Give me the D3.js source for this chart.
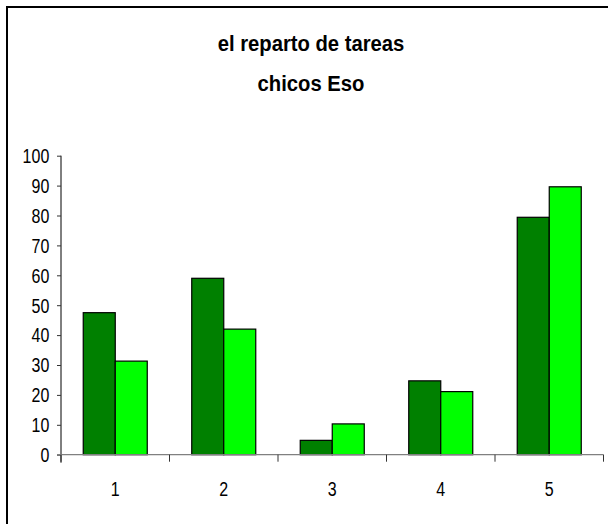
<!DOCTYPE html>
<html><head><meta charset="utf-8">
<script src="https://cdn.jsdelivr.net/npm/d3@7"></script>
<style>body{margin:0;background:#fff}svg{display:block}text{font-family:"Liberation Sans",Arial,sans-serif}</style>
</head><body><svg id="c" width="608" height="524"></svg>
<script>
const categories = ["1","2","3","4","5"];
const series1 = [47.5, 59, 4.8, 24.7, 79.4];
const series2 = [31.3, 42, 10.3, 21.1, 89.6];
const yTicks = [0,10,20,30,40,50,60,70,80,90,100];
const titleLines = ["el reparto de tareas", "chicos Eso"];
const colors = ["#008000", "#00FF00"];

(function(){
const svg = d3.select("#c");
svg.append("rect").attr("x",7).attr("y",7).attr("width",620).attr("height",540)
  .attr("fill","#fff").attr("stroke","#000").attr("stroke-width",2);

const pL = 61, pR = 603.5, pT = 155.7, pB = 454.7;
const x = d3.scaleBand().domain(categories).range([pL, pR]).paddingInner(0).paddingOuter(0);
const y = d3.scaleLinear().domain([0,100]).range([pB, pT]);
const inner = d3.scaleBand().domain([0,1]).range([0, x.bandwidth()]).paddingInner(0).paddingOuter(0.695);

const tl = svg.append("g").attr("font-weight","bold").attr("font-size",22.5).attr("text-anchor","middle");
titleLines.forEach((t,i)=> tl.append("text")
  .attr("transform",`translate(311,${51 + i*40}) scale(0.9,1)`).text(t));

const data = categories.map((c,i)=>({c, v:[series1[i], series2[i]]}));
const g = svg.append("g");
data.forEach(d=>{
  d.v.forEach((v,j)=>{
    g.append("rect").attr("x", x(d.c)+inner(j)).attr("y", y(v))
      .attr("width", inner.bandwidth()).attr("height", y(0)-y(v))
      .attr("fill", colors[j]).attr("stroke","#000").attr("stroke-width",1.2);
  });
});

// y axis
const ya = svg.append("g").attr("transform",`translate(${pL},0)`)
  .call(d3.axisLeft(y).tickValues(yTicks).tickSize(4).tickPadding(8).tickFormat(d3.format("d")));
ya.select(".domain").attr("stroke","#000").attr("d",`M0,${pT}V${pB+8}`);
ya.selectAll(".tick line").attr("stroke","#333");
ya.selectAll(".tick text").attr("font-size",19.5).attr("fill","#000")
  .attr("x",null).attr("dy","0.35em")
  .attr("transform","translate(-11.7,0) scale(0.82,1)");

// x axis
const xa = svg.append("g").attr("transform",`translate(0,${pB})`);
xa.append("line").attr("x1",pL-4).attr("x2",pR).attr("stroke","#808080").attr("stroke-width",1.2);
const bounds = categories.map(c=>x(c)).concat([x(categories[categories.length-1])+x.bandwidth()]);
xa.selectAll("line.t").data(bounds).join("line").attr("class","t")
  .attr("x1",d=>d).attr("x2",d=>d).attr("y1",0).attr("y2",7).attr("stroke","#333");
xa.selectAll("text").data(categories).join("text")
  .attr("transform",d=>`translate(${x(d)+x.bandwidth()/2},41.3) scale(0.82,1)`)
  .attr("text-anchor","middle")
  .attr("font-size",19.5).attr("fill","#000").text(d=>d);
})();
</script></body></html>
